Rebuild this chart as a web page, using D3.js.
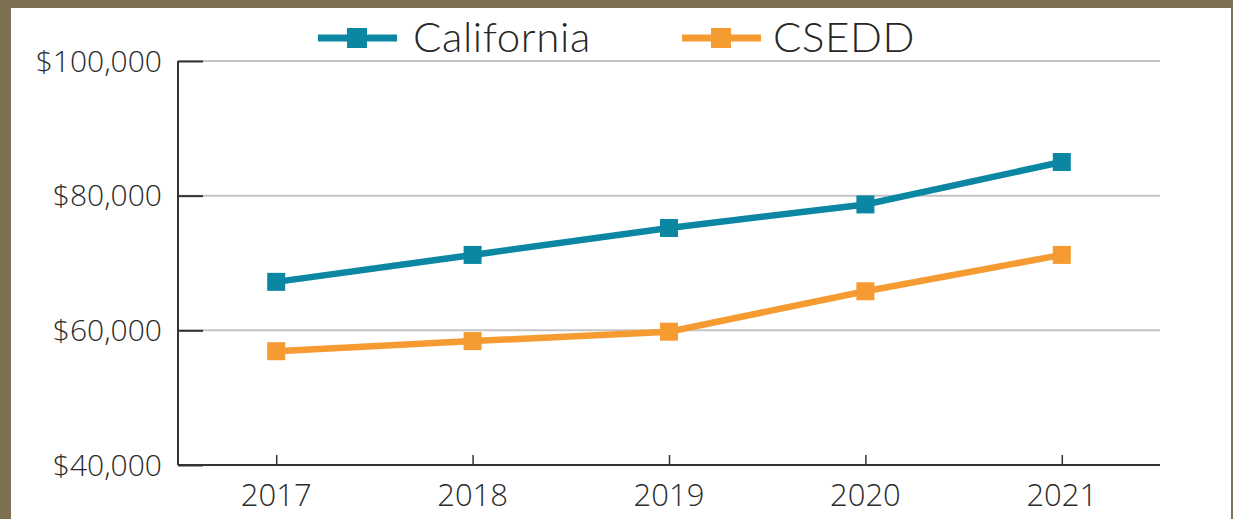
<!DOCTYPE html>
<html>
<head>
<meta charset="utf-8">
<script src="https://cdn.jsdelivr.net/npm/d3@7"></script>
<style>
  html, body { margin: 0; padding: 0; background: #7d7152; }
  #chart { position: absolute; left: 11px; top: 8px; width: 1220px; height: 511px; background: #fff; }
  svg { position: absolute; left: 0; top: 0; }
</style>
</head>
<body>
<div id="chart"></div>
<script>
// data
var years = ["2017", "2018", "2019", "2020", "2021"];
var california = [67200, 71200, 75200, 78700, 85000];
var csedd = [56900, 58400, 59800, 65800, 71200];
var yTicks = [40000, 60000, 80000, 100000];
var seriesNames = ["California", "CSEDD"];
var seriesColors = ["#0b87a4", "#f59b32"];

var width = 1233, height = 519;
var margin = {top: 61, right: 73, bottom: 54, left: 178};

var svg = d3.select("body").append("svg")
    .attr("width", width)
    .attr("height", height);

var x = d3.scalePoint()
    .domain(years)
    .range([margin.left, width - margin.right])
    .padding(0.5);

var y = d3.scaleLinear()
    .domain([40000, 100000])
    .range([height - margin.bottom, margin.top]);

var fmt = function(d) { return "$" + d3.format(",")(d); };

// gridlines
svg.append("g")
    .selectAll("line")
    .data(yTicks.slice(1))
  .enter().append("line")
    .attr("x1", margin.left)
    .attr("x2", width - margin.right)
    .attr("y1", function(d) { return y(d); })
    .attr("y2", function(d) { return y(d); })
    .attr("stroke", "#c4c4c4")
    .attr("stroke-width", 2);

// y axis, ticks pointing inward
svg.append("g")
    .attr("transform", "translate(" + margin.left + ",0)")
    .call(d3.axisRight(y).tickValues(yTicks).tickSize(25).tickFormat(""))
    .call(function(g) {
      g.select(".domain").attr("stroke", "#333").attr("stroke-width", 2).attr("d", "M0," + y(40000) + "V" + y(100000));
      g.selectAll(".tick line").attr("stroke", "#333").attr("stroke-width", 2);
    });

svg.append("g")
    .selectAll("text")
    .data(yTicks)
  .enter().append("text")
    .attr("x", 162)
    .attr("y", function(d) { return y(d); })
    .attr("dy", "0.36em")
    .attr("text-anchor", "end")
    .attr("font-family", "Open Sans")
    .attr("font-weight", 300)
    .attr("font-size", 30)
    .attr("fill", "#2b2b2b")
    .text(fmt);

// x axis
svg.append("g")
    .attr("transform", "translate(0," + y(40000) + ")")
    .call(d3.axisTop(x).tickSize(10).tickSizeOuter(0).tickFormat(""))
    .call(function(g) {
      g.select(".domain").attr("stroke", "#333").attr("stroke-width", 2)
        .attr("d", "M" + margin.left + ",0H" + (width - margin.right));
      g.selectAll(".tick line").attr("stroke", "#333").attr("stroke-width", 1.5);
    });

svg.append("g")
    .selectAll("text")
    .data(years)
  .enter().append("text")
    .attr("x", function(d) { return x(d); })
    .attr("y", 506)
    .attr("text-anchor", "middle")
    .attr("font-family", "Open Sans")
    .attr("font-weight", 300)
    .attr("font-size", 31)
    .attr("fill", "#2b2b2b")
    .text(function(d) { return d; });

// series
var series = [california, csedd];
var line = d3.line()
    .x(function(d, i) { return x(years[i]); })
    .y(function(d) { return y(d); });

series.forEach(function(vals, k) {
  var g = svg.append("g");
  g.append("path")
      .datum(vals)
      .attr("fill", "none")
      .attr("stroke", seriesColors[k])
      .attr("stroke-width", 6.5)
      .attr("d", line);
  g.selectAll("rect")
      .data(vals)
    .enter().append("rect")
      .attr("x", function(d, i) { return x(years[i]) - 9; })
      .attr("y", function(d) { return y(d) - 9; })
      .attr("width", 18)
      .attr("height", 18)
      .attr("fill", seriesColors[k]);
});

// legend
var legendX = [318, 682];
var legend = svg.append("g")
    .selectAll("g")
    .data(seriesNames)
  .enter().append("g")
    .attr("transform", function(d, i) { return "translate(" + legendX[i] + ",38)"; });

legend.append("line")
    .attr("x1", 0)
    .attr("x2", 79)
    .attr("stroke", function(d, i) { return seriesColors[i]; })
    .attr("stroke-width", 7);
legend.append("rect")
    .attr("x", 29)
    .attr("y", -10)
    .attr("width", 20)
    .attr("height", 20)
    .attr("fill", function(d, i) { return seriesColors[i]; });
legend.append("text")
    .attr("x", function(d, i) { return i ? 91 : 95; })
    .attr("y", 14)
    .attr("font-family", "Lato")
    .attr("font-weight", 300)
    .attr("font-size", 42)
    .attr("letter-spacing", 0.6)
    .attr("fill", "#262626")
    .text(function(d) { return d; });
</script>
</body>
</html>
